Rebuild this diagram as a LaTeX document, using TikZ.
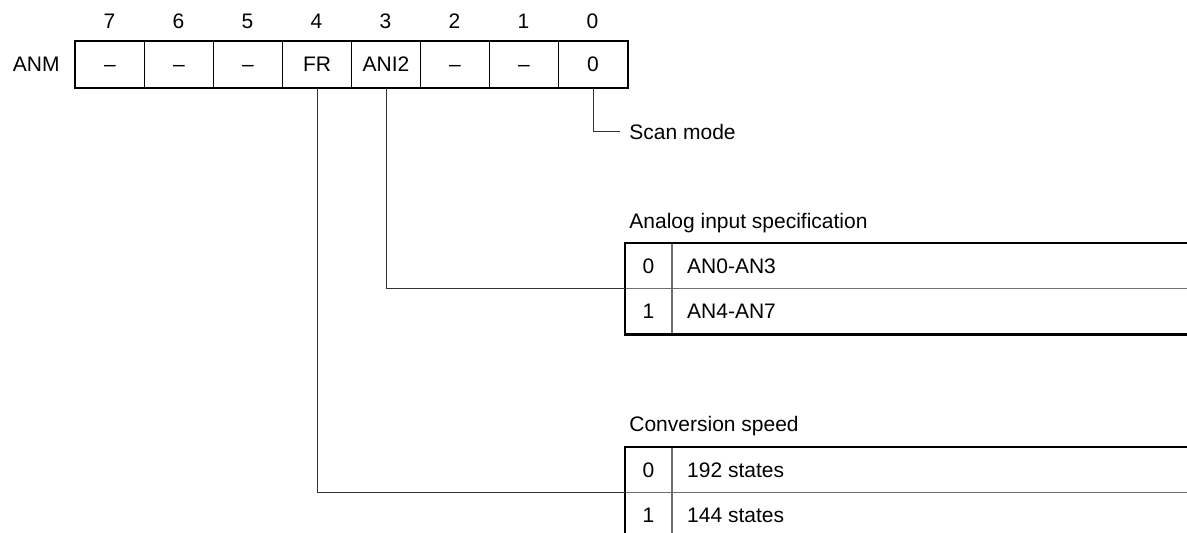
\documentclass[tikz,border=0pt]{standalone}
\usepackage{fontspec}
\setmainfont{Liberation Sans}
\usetikzlibrary{positioning,calc}
\definecolor{rulegray}{RGB}{110,110,110}

\begin{document}
\begin{tikzpicture}[x=0.5pt,y=-0.5pt,line cap=butt,
  font=\fontsize{10.5}{12.6}\selectfont,
  bitcell/.style={draw=black,line width=0.5pt,anchor=north west,inner sep=0pt,
                  minimum width=34.5pt,minimum height=23pt,text height=7.5pt,text depth=0pt},
  numcell/.style={anchor=north west,inner sep=0pt,minimum width=23pt,minimum height=22.5pt},
  txt/.style={inner sep=0pt},
  tblrule/.style={line width=1.3pt,black},
  tblthin/.style={line width=0.6pt,rulegray},
  coldiv/.style={line width=0.8pt,rulegray},
  wire/.style={line width=0.5pt,black!80}]
  \useasboundingbox (0,0) rectangle (1187,533);
  \clip (0,0) rectangle (1187,533);
  % register ANM
  \foreach \b/\t [count=\i from 0] in {7/--,6/--,5/--,4/FR,3/ANI2,2/--,1/--,0/0}{
    \node[bitcell] (b\b) at (75+69*\i,41) {\t};
    \node[txt] (n\b) at (109.5+69*\i,21) {\b};
  }
  \draw[line width=1pt] (b7.north west) rectangle (b0.south east);
  \node[txt,left=7.5pt of b7] (anm) {ANM};
  % scan mode
  \node[anchor=west,inner ysep=0pt,inner xsep=4.5pt] (scan) at (620,132) {Scan mode};
  \draw[wire] (b0.south) |- (scan.west);
  % analog input specification
  \node[txt,anchor=base west] (aititle) at (629,229) {Analog input specification};
  \node[numcell] (ai0) at (625,243) {0};
  \node[numcell,below=0pt of ai0] (ai1) {1};
  \node[txt,right=7.5pt of ai0] (ait0) {AN0-AN3};
  \node[txt,right=7.5pt of ai1] (ait1) {AN4-AN7};
  \draw[tblthin] (ai0.south west) -- ++(570,0);
  \draw[coldiv] (ai0.north east) -- (ai1.south east);
  \draw[tblrule] ($(ai0.north west)+(570,0)$) -- (ai0.north west) -- (ai1.south west) -- ++(570,0);
  \draw[wire] (b3.south) |- (ai0.south west);
  % conversion speed
  \node[txt,anchor=base west] (cstitle) at (629,432) {Conversion speed};
  \node[numcell] (cs0) at (625,447) {0};
  \node[numcell,below=0pt of cs0] (cs1) {1};
  \node[txt,right=7.5pt of cs0] (cst0) {192 states};
  \node[txt,right=7.5pt of cs1] (cst1) {144 states};
  \draw[tblthin] (cs0.south west) -- ++(570,0);
  \draw[coldiv] (cs0.north east) -- ++(0,120);
  \draw[tblrule] ($(cs0.north west)+(570,0)$) -- (cs0.north west) -- ++(0,120);
  \draw[wire] (b4.south) |- (cs0.south west);
\end{tikzpicture}
\end{document}
